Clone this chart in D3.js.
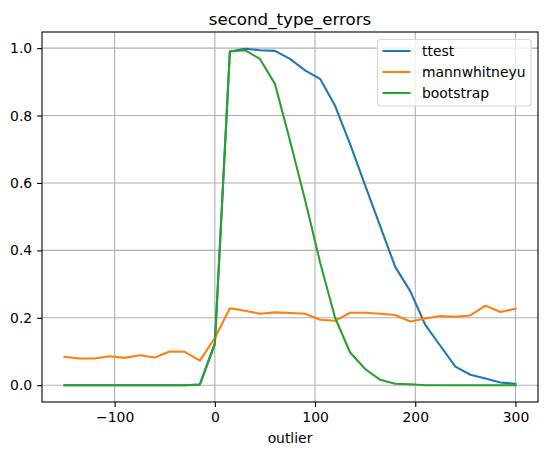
<!DOCTYPE html>
<html>
<head>
<meta charset="utf-8">
<script src="https://cdn.jsdelivr.net/npm/d3@7"></script>
<style>
  body { margin: 0; background: #fff; }
  text { font-family: "DejaVu Sans", sans-serif; }
</style>
</head>
<body>
<script>
// outlier values, step 15
var outliers = d3.range(-150, 301, 15);

var ttest = [0,0,0,0,0,0,0,0,0,0.002,0.125,0.99,0.998,0.994,0.992,0.968,0.934,0.909,0.829,0.715,0.593,0.472,0.351,0.279,0.179,0.117,0.055,0.031,0.020,0.008,0.004];
var mannwhitneyu = [0.084,0.079,0.079,0.086,0.081,0.089,0.082,0.100,0.099,0.073,0.14,0.228,0.221,0.212,0.216,0.214,0.212,0.194,0.191,0.215,0.215,0.212,0.208,0.189,0.198,0.205,0.203,0.207,0.236,0.217,0.227];
var bootstrap = [0,0,0,0,0,0,0,0,0,0.002,0.12,0.99,0.994,0.968,0.894,0.725,0.55,0.365,0.2,0.097,0.048,0.016,0.004,0.003,0,0,0,0,0,0,0];

var seriesNames = ["ttest", "mannwhitneyu", "bootstrap"];
var seriesColors = ["#1f77b4", "#ff7f0e", "#2ca02c"];
var xTicks = [-100, 0, 100, 200, 300];
var yTicks = [0, 0.2, 0.4, 0.6, 0.8, 1.0];

var W = 547, H = 455;
var pLeft = 42, pRight = 538, pTop = 32, pBottom = 402;

var svg = d3.select("body").append("svg")
    .attr("width", W)
    .attr("height", H);

var x = d3.scaleLinear().domain([-172.5, 322.5]).range([pLeft, pRight]);
var y = d3.scaleLinear().domain([-0.0499, 1.0479]).range([pBottom, pTop]);

// grid
svg.append("g").selectAll("line")
    .data(xTicks).enter().append("line")
    .attr("x1", d => x(d)).attr("x2", d => x(d))
    .attr("y1", pTop).attr("y2", pBottom)
    .attr("stroke", "#b0b0b0").attr("stroke-width", 1.1);
svg.append("g").selectAll("line")
    .data(yTicks).enter().append("line")
    .attr("x1", pLeft).attr("x2", pRight)
    .attr("y1", d => y(d)).attr("y2", d => y(d))
    .attr("stroke", "#b0b0b0").attr("stroke-width", 1.1);

// axes
var xAxis = svg.append("g")
    .attr("transform", "translate(0," + pBottom + ")")
    .call(d3.axisBottom(x).tickValues(xTicks).tickSize(4.9).tickPadding(4.9)
        .tickFormat(d => d < 0 ? "\u2212" + Math.abs(d) : d));
var yAxis = svg.append("g")
    .attr("transform", "translate(" + pLeft + ",0)")
    .call(d3.axisLeft(y).tickValues(yTicks).tickSize(4.9).tickPadding(4.9)
        .tickFormat(d3.format(".1f")));
[xAxis, yAxis].forEach(function(a) {
    a.select(".domain").remove();
    a.selectAll("line").attr("stroke", "#000").attr("stroke-width", 1.1);
    a.selectAll("text").attr("font-size", 13.9).attr("fill", "#000")
        .style("font-family", "DejaVu Sans");
});

// lines
var allSeries = [ttest, mannwhitneyu, bootstrap];
var line = d3.line().x((d, i) => x(outliers[i])).y(d => y(d));
allSeries.forEach(function(s, k) {
    svg.append("path")
        .datum(s)
        .attr("d", line)
        .attr("fill", "none")
        .attr("stroke", seriesColors[k])
        .attr("stroke-width", 2.08)
        .attr("stroke-linejoin", "round")
        .attr("stroke-linecap", "square");
});

// frame
svg.append("rect")
    .attr("x", pLeft).attr("y", pTop)
    .attr("width", pRight - pLeft).attr("height", pBottom - pTop)
    .attr("fill", "none").attr("stroke", "#000").attr("stroke-width", 1.1);

// title and label
svg.append("text")
    .attr("x", (pLeft + pRight) / 2).attr("y", 25)
    .attr("text-anchor", "middle").attr("font-size", 16.7)
    .text("second_type_errors");
svg.append("text")
    .attr("x", (pLeft + pRight) / 2).attr("y", 443)
    .attr("text-anchor", "middle").attr("font-size", 13.9)
    .text("outlier");

// legend
var lg = svg.append("g");
lg.append("rect")
    .attr("x", 377.5).attr("y", 39.5).attr("width", 153.5).attr("height", 66.5)
    .attr("rx", 3).attr("fill", "#fff").attr("fill-opacity", 0.8)
    .attr("stroke", "#d6d6d6").attr("stroke-width", 1.1);
seriesNames.forEach(function(n, k) {
    var yy = 51 + k * 21;
    lg.append("line")
        .attr("x1", 382.5).attr("x2", 410.5)
        .attr("y1", yy).attr("y2", yy)
        .attr("stroke", seriesColors[k]).attr("stroke-width", 2.08);
    lg.append("text")
        .attr("x", 422).attr("y", yy + 5)
        .attr("font-size", 13.9)
        .text(n);
});
</script>
</body>
</html>
